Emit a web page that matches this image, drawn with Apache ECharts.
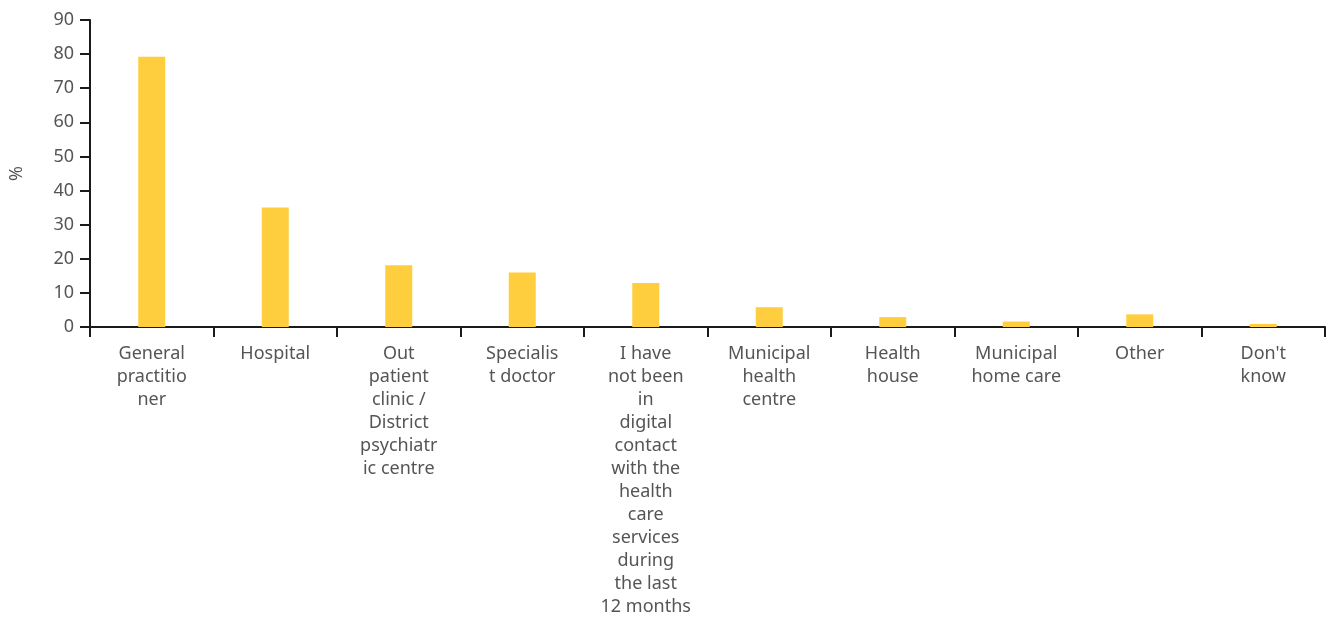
<!DOCTYPE html>
<html>
<head>
<meta charset="utf-8">
<script src="https://cdn.jsdelivr.net/npm/echarts@6/dist/echarts.min.js"></script>
<style>
  html, body { margin: 0; padding: 0; background: #fff; }
  #chart { width: 1329px; height: 618px; }
</style>
</head>
<body>
<div id="chart"></div>
<script>
  // categories (line breaks as in the source)
  var categories = [
    'General\npractitio\nner',
    'Hospital',
    'Out\npatient\nclinic /\nDistrict\npsychiatr\nic centre',
    'Specialis\nt doctor',
    'I have\nnot been\nin\ndigital\ncontact\nwith the\nhealth\ncare\nservices\nduring\nthe last\n12 months',
    'Municipal\nhealth\ncentre',
    'Health\nhouse',
    'Municipal\nhome care',
    'Other',
    "Don't\nknow"
  ];
  // share of respondents, %
  var values = [79.2, 35.0, 18.1, 16.0, 12.9, 5.8, 2.9, 1.6, 3.7, 0.9];

  var yMin = 0, yMax = 90, yStep = 10;

  var chart = echarts.init(document.getElementById('chart'));

  var option = {
    animation: false,
    textStyle: { fontFamily: '"Noto Sans", sans-serif' },
    grid: { left: 89, right: 4, top: 20, bottom: 285, containLabel: false },
    xAxis: {
      type: 'category',
      data: categories,
      axisLine: { lineStyle: { color: '#1a1a1a', width: 2 } },
      axisTick: { show: true, length: 10, lineStyle: { color: '#1a1a1a', width: 2 } },
      axisLabel: {
        interval: 0,
        color: '#555',
        fontSize: 18,
        lineHeight: 23,
        margin: 15,
        align: 'center'
      }
    },
    yAxis: {
      type: 'value',
      min: yMin,
      max: yMax,
      interval: yStep,
      name: '%',
      nameLocation: 'middle',
      nameGap: 64,
      nameRotate: 90,
      nameTextStyle: { color: '#555', fontSize: 18 },
      splitLine: { show: false },
      axisLine: { show: true, lineStyle: { color: '#1a1a1a', width: 2 } },
      axisTick: { show: true, length: 10, lineStyle: { color: '#1a1a1a', width: 2 } },
      axisLabel: { color: '#555', fontSize: 18, margin: 16 }
    },
    series: [{
      type: 'bar',
      data: values,
      barWidth: 27,
      itemStyle: { color: '#FFCE3F' }
    }]
  };

  chart.setOption(option);
</script>
</body>
</html>
